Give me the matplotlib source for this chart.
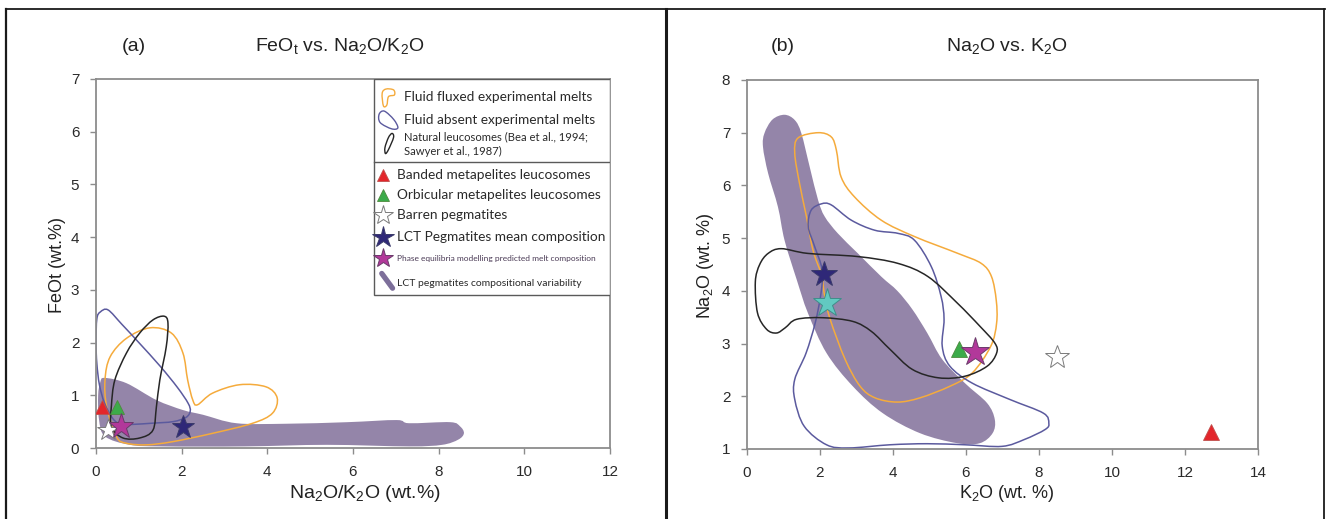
import matplotlib
matplotlib.use('Agg')
import matplotlib.pyplot as plt
import numpy as np
from matplotlib.path import Path
from matplotlib.patches import PathPatch, Rectangle
from matplotlib.lines import Line2D

plt.rcParams['font.family'] = ['Liberation Sans', 'DejaVu Sans']
plt.rcParams['mathtext.default'] = 'regular'

# ---------------- panel (a): FeOt vs Na2O/K2O ----------------
a_fluxed = [(1.26, 2.28), (1.76, 2.18), (2.03, 1.8), (2.14, 1.29), (2.26, 0.91), (2.37, 0.82),
            (2.72, 1.04), (3.35, 1.2), (3.97, 1.16), (4.23, 0.95), (4.12, 0.66), (3.66, 0.47),
            (2.73, 0.28), (1.79, 0.12), (1.18, 0.06), (0.71, 0.09), (0.48, 0.21), (0.25, 0.78),
            (0.21, 1.29), (0.33, 1.73), (0.71, 2.08)]
a_absent = [(0.02, 2.45), (0.1, 2.58), (0.28, 2.62), (0.6, 2.35), (1.0, 2.0), (1.5, 1.55),
            (1.9, 1.15), (2.15, 0.85), (2.2, 0.7), (2.1, 0.58), (1.8, 0.5), (1.3, 0.47),
            (0.9, 0.45), (0.6, 0.45), (0.4, 0.55), (0.2, 0.85), (0.08, 1.2), (0.02, 1.6),
            (0.0, 2.0)]
a_natural = [(1.59, 2.5), (1.68, 2.37), (1.64, 1.92), (1.49, 1.29), (1.41, 0.78), (1.33, 0.34),
             (1.02, 0.19), (0.63, 0.19), (0.36, 0.4), (0.36, 0.8), (0.44, 1.29), (0.71, 1.8),
             (1.02, 2.18), (1.33, 2.43)]
a_lct_field = [(0.2, 1.33), (0.71, 1.23), (1.41, 0.91), (2.03, 0.72), (2.5, 0.63), (3.28, 0.47),
               (4.43, 0.46), (5.87, 0.49), (7.02, 0.53), (7.31, 0.47), (8.27, 0.49), (8.5, 0.41),
               (8.59, 0.28), (8.46, 0.16), (8.08, 0.06), (7.31, 0.03), (5.39, 0.06), (3.47, 0.03),
               (1.55, 0.03), (0.79, 0.06), (0.21, 0.22), (0.07, 0.54), (0.05, 1.0), (0.1, 1.25)]

# samples: banded, orbicular, barren, LCT mean, phase equilibria
a_ratio = [0.14, 0.5, 0.27, 2.02, 0.59]
a_feo = [0.78, 0.78, 0.34, 0.39, 0.41]

# ---------------- panel (b): Na2O vs K2O ----------------
b_fluxed = [(1.95, 7.0), (2.31, 6.92), (2.45, 6.67), (2.58, 6.16), (2.95, 5.78), (3.68, 5.34),
            (4.59, 5.03), (5.78, 4.71), (6.42, 4.52), (6.7, 4.27), (6.83, 3.82), (6.84, 3.39),
            (6.68, 2.95), (6.17, 2.44), (5.56, 2.19), (4.74, 1.97), (4.12, 1.89), (3.51, 1.97),
            (3.1, 2.19), (2.69, 2.7), (2.28, 3.46), (2.13, 3.9), (2.04, 4.3), (1.81, 4.77),
            (1.63, 5.41), (1.44, 6.04), (1.31, 6.61), (1.4, 6.9)]
b_absent = [(2.04, 5.65), (2.31, 5.63), (2.86, 5.34), (3.5, 5.15), (4.14, 5.09), (4.59, 4.96),
            (5.05, 4.46), (5.32, 3.89), (5.4, 3.46), (5.35, 2.95), (5.56, 2.57), (6.17, 2.25),
            (7.2, 1.94), (8.12, 1.68), (8.27, 1.49), (8.17, 1.37), (7.6, 1.18), (6.99, 1.05),
            (5.97, 1.08), (4.94, 1.1), (3.92, 1.08), (2.79, 1.02), (2.18, 1.08), (1.57, 1.43),
            (1.31, 1.94), (1.31, 2.32), (1.62, 2.82), (1.87, 3.39), (2.03, 3.96), (2.06, 4.4),
            (1.85, 4.85), (1.68, 5.22), (1.76, 5.53)]
b_natural = [(0.94, 4.8), (1.67, 4.71), (3.04, 4.65), (4.14, 4.52), (4.96, 4.27), (5.76, 3.77),
             (6.38, 3.33), (6.79, 3.01), (6.84, 2.82), (6.58, 2.57), (5.97, 2.38), (5.25, 2.35),
             (4.53, 2.51), (3.92, 2.89), (3.41, 3.23), (2.9, 3.42), (2.08, 3.49), (1.36, 3.46),
             (1.05, 3.3), (0.81, 3.2), (0.54, 3.27), (0.29, 3.58), (0.23, 4.17), (0.35, 4.5),
             (0.58, 4.71)]
b_lct_field = [(1.03, 7.34), (1.31, 7.24), (1.49, 6.99), (1.72, 6.35), (1.95, 5.72), (2.13, 5.41),
               (2.49, 5.09), (3.04, 4.71), (3.68, 4.27), (4.12, 4.0), (4.53, 3.65), (4.94, 3.2),
               (5.35, 2.7), (5.97, 2.25), (6.58, 1.87), (6.79, 1.56), (6.73, 1.3), (6.38, 1.11),
               (5.76, 1.11), (4.74, 1.3), (3.72, 1.68), (2.9, 2.19), (2.18, 2.82), (1.67, 3.58),
               (1.36, 4.22), (1.03, 4.96), (0.85, 5.59), (0.58, 6.23), (0.44, 6.73), (0.48, 6.99),
               (0.7, 7.25)]

b_k2o = [12.7, 5.8, 8.5, 2.12, 6.25]
b_na2o = [1.32, 2.9, 2.75, 4.32, 2.84]
b_extra_k2o = [2.18]
b_extra_na2o = [3.76]

sample_labels = ['Banded metapelites leucosomes', 'Orbicular metapelites leucosomes',
                 'Barren pegmatites', 'LCT Pegmatites mean composition',
                 'Phase equilibria modelling predicted melt composition']

# colours
ORANGE = '#f5ab3c'
BLUE = '#5b5a9e'
BLACK = '#262626'
PURPLE = '#9485a9'
AXGREY = '#8c8c8c'

sample_style = [
    dict(marker='^', ms=11, mfc='#e3262b', mec='#c0504d', mew=0.6),
    dict(marker='^', ms=11, mfc='#3cab4a', mec='#4e8a3e', mew=0.6),
    dict(marker='*', ms=18, mfc='white', mec='#7a7a7a', mew=0.7),
    dict(marker='*', ms=19, mfc='#2f2878', mec='#3a3a6a', mew=0.7),
    dict(marker='*', ms=21, mfc='#b2389a', mec='#6a3a6a', mew=0.7),
]


def smooth_path(pts):
    """Closed Catmull-Rom outline through pts, as cubic Bezier path."""
    p = np.asarray(pts, float)
    n = len(p)
    verts = [p[0]]
    codes = [Path.MOVETO]
    for i in range(n):
        p0, p1, p2, p3 = p[i - 1], p[i], p[(i + 1) % n], p[(i + 2) % n]
        c1 = p1 + (p2 - p0) / 6.0
        c2 = p2 - (p3 - p1) / 6.0
        verts += [c1, c2, p2]
        codes += [Path.CURVE4] * 3
    verts.append(p[0])
    codes.append(Path.CLOSEPOLY)
    return Path(verts, codes)


def style_axes(ax, xlim, ylim, xticks, yticks):
    ax.set_xlim(*xlim)
    ax.set_ylim(*ylim)
    ax.set_xticks(xticks)
    ax.set_yticks(yticks)
    for s in ax.spines.values():
        s.set_color(AXGREY)
        s.set_linewidth(1.3)
    ax.tick_params(direction='out', length=4, width=1, color=AXGREY,
                   labelsize=11, labelcolor='#2a2a2a', pad=8)


def draw_fields(ax, field, fluxed, absent, natural):
    ax.add_patch(PathPatch(smooth_path(field), facecolor=PURPLE, edgecolor='none', zorder=1))
    for outline, col in ((fluxed, ORANGE), (absent, BLUE), (natural, BLACK)):
        ax.add_patch(PathPatch(smooth_path(outline), facecolor='none', edgecolor=col,
                               lw=1.1, zorder=2))


fig = plt.figure(figsize=(13.26, 5.19), dpi=100)
ax1 = fig.add_axes([0.0724, 0.1368, 0.3876, 0.711])
ax2 = fig.add_axes([0.5633, 0.1349, 0.3854, 0.711])

# panel (a)
style_axes(ax1, (0, 12), (0, 7), np.arange(0, 13, 2), np.arange(0, 8, 1))
draw_fields(ax1, a_lct_field, a_fluxed, a_absent, a_natural)
for x, y, st in zip(a_ratio, a_feo, sample_style):
    st = dict(st)
    st['ms'] = st['ms'] * 0.9
    ax1.plot(x, y, linestyle='none', zorder=4, **st)

# panel (b)
style_axes(ax2, (0, 14), (1, 8), np.arange(0, 15, 2), np.arange(1, 9, 1))
draw_fields(ax2, b_lct_field, b_fluxed, b_absent, b_natural)
for x, y, st in zip(b_k2o, b_na2o, sample_style):
    ax2.plot(x, y, linestyle='none', zorder=4, **st)
ax2.plot(b_extra_k2o, b_extra_na2o, linestyle='none', marker='*', ms=21,
         mfc='#62c9c1', mec='#3f8e8a', mew=0.7, zorder=4)

# ---- key (drawn inside panel a) ----
leg_font = ['Lato', 'DejaVu Sans']
tA = ax1.transAxes
ax1.add_patch(Rectangle((0.540, 0.415), 0.46, 0.585, transform=tA, facecolor='white',
                        edgecolor='#5a5a5a', lw=1.0, zorder=5))
ax1.add_line(Line2D([0.540, 1.0], [0.774, 0.774], transform=tA, color='#5a5a5a', lw=1.0, zorder=6))

loop_fluxed = smooth_path([(-0.6, -1.0), (-0.75, 0.5), (-0.3, 1.0), (0.6, 0.9), (0.7, 0.3),
                           (0.0, 0.1), (-0.2, -0.9)])
loop_absent = smooth_path([(-0.9, 0.6), (-0.4, 0.9), (0.5, 0.1), (0.9, -0.7), (0.3, -0.8),
                           (-0.8, -0.2)])
loop_natural = smooth_path([(0.35, 1.0), (0.5, 0.6), (0.0, -0.6), (-0.3, -1.0), (-0.35, -0.4),
                            (0.0, 0.6)])
key_loops = [(loop_fluxed, ORANGE, 0.952), (loop_absent, BLUE, 0.889), (loop_natural, BLACK, 0.826)]
for pth, col, yk in key_loops:
    ax1.plot([0.568], [yk], transform=tA, marker=pth, ms=15, mfc='none', mec=col, mew=1.0,
             linestyle='none', zorder=7, clip_on=False)

ax1.text(0.599, 0.952, 'Fluid fluxed experimental melts', transform=tA, fontsize=9.8,
         family=leg_font, color='#2a2a2a', va='center', zorder=7)
ax1.text(0.599, 0.889, 'Fluid absent experimental melts', transform=tA, fontsize=9.8,
         family=leg_font, color='#2a2a2a', va='center', zorder=7)
ax1.text(0.599, 0.824, 'Natural leucosomes (Bea et al., 1994;\nSawyer et al., 1987)', transform=tA,
         fontsize=8.1, family=leg_font, color='#2a2a2a', va='center', linespacing=1.45, zorder=7)

key_y = [0.740, 0.686, 0.631, 0.573, 0.514]
key_size = [9.8, 9.8, 9.8, 9.8, 6.0]
key_ms = [9, 9, 15, 16, 15]
for lab, st, yk, fs, ms in zip(sample_labels, sample_style, key_y, key_size, key_ms):
    st = dict(st)
    st['ms'] = ms
    ax1.plot([0.559], [yk], transform=tA, linestyle='none', zorder=7, clip_on=False, **st)
    ax1.text(0.585, yk, lab, transform=tA, fontsize=fs, family=leg_font,
             color='#2a2a2a' if fs > 7 else '#4a3a55', va='center', zorder=7)
ax1.add_line(Line2D([0.556, 0.577], [0.473, 0.433], transform=tA, color='#7d6f9a', lw=3.8,
                    solid_capstyle='round', zorder=7))
ax1.text(0.585, 0.446, 'LCT pegmatites compositional variability', transform=tA, fontsize=7.5,
         family=leg_font, color='#2a2a2a', va='center', zorder=7)

# ---- titles and axis labels ----
fig.text(0.101, 0.911, '(a)', fontsize=14, ha='center', va='center', color='#222')
fig.text(0.256, 0.911, 'FeO$_t$ vs. Na$_2$O/K$_2$O', fontsize=14, ha='center', va='center', color='#222')
fig.text(0.590, 0.911, '(b)', fontsize=14, ha='center', va='center', color='#222')
fig.text(0.759, 0.911, 'Na$_2$O vs. K$_2$O', fontsize=14, ha='center', va='center', color='#222')
fig.text(0.043, 0.489, 'FeOt (wt.%)', fontsize=13, rotation=90, ha='center', va='center', color='#222')
fig.text(0.532, 0.489, 'Na$_2$O (wt. %)', fontsize=13, rotation=90, ha='center', va='center', color='#222')
fig.text(0.275, 0.05, 'Na$_2$O/K$_2$O (wt.%)', fontsize=14, ha='center', va='center', color='#222')
fig.text(0.759, 0.05, 'K$_2$O (wt. %)', fontsize=13, ha='center', va='center', color='#222')

# outer frame and panel divider
for xs, ys, lw in (([0.0045, 0.9995], [0.983, 0.983], 1.3),
                   ([0.0045, 0.0045], [0.0, 0.983], 1.6),
                   ([0.502, 0.502], [0.0, 0.983], 2.2),
                   ([0.9985, 0.9985], [0.0, 0.983], 1.3)):
    fig.add_artist(Line2D(xs, ys, transform=fig.transFigure, color='#1a1a1a', lw=lw))

fig.savefig('out.png', dpi=100)
